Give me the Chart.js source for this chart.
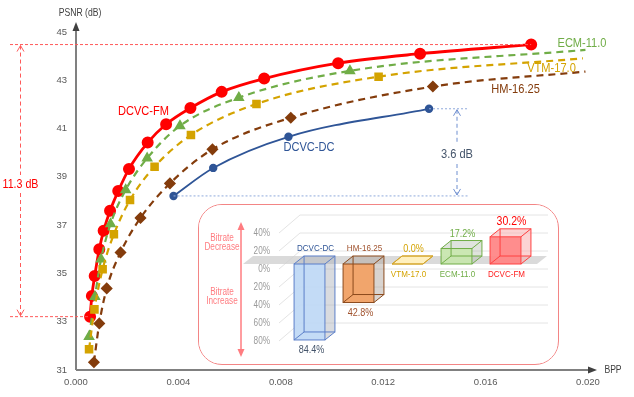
<!DOCTYPE html>
<html><head><meta charset="utf-8">
<script src="https://cdn.jsdelivr.net/npm/chart.js@4"></script>
<style>
html,body{margin:0;padding:0;background:#fff;}
#wrap{position:relative;width:634px;height:397px;overflow:hidden;}
#main{position:absolute;left:0;top:0;}
#inset{position:absolute;left:198px;top:204px;width:361px;height:161px;box-sizing:border-box;border:1.3px solid #f38585;border-radius:24px;background:#fff;overflow:hidden;}
#ic{position:absolute;left:0;top:0;}
</style></head><body>
<div id="wrap"><canvas id="main" width="634" height="397"></canvas>
<div id="inset"><canvas id="ic" width="358" height="158"></canvas></div></div>
<script>
// ---------- data ----------
const xTicks = [0, 0.004, 0.008, 0.012, 0.016, 0.020];
const yTicks = [31, 33, 35, 37, 39, 41, 43, 45];

const fmBpp  = [0.00055,0.00062,0.00073,0.00091,0.00108,0.00133,0.00165,0.00207,0.00280,0.00352,0.00447,0.00569,0.00735,0.01024,0.01344,0.01778];
const fmPsnr = [33.21,34.07,34.89,36.00,36.77,37.60,38.41,39.33,40.42,41.18,41.85,42.52,43.07,43.71,44.10,44.48];

const ecmBpp  = [0.00051,0.00074,0.00098,0.00135,0.00194,0.00278,0.00406,0.00636,0.01070,0.01990];
const ecmPsnr = [32.38,34.04,35.59,37.05,38.46,39.77,41.11,42.28,43.39,44.26];

const vtmBpp  = [0.00051,0.00072,0.00104,0.00148,0.00211,0.00307,0.00449,0.00705,0.01182,0.01980];
const vtmPsnr = [31.86,33.51,35.17,36.62,38.04,39.42,40.73,42.02,43.15,43.91];

const hmBpp  = [0.00070,0.00091,0.00120,0.00174,0.00252,0.00367,0.00533,0.00839,0.01394,0.01990];
const hmPsnr = [31.32,32.93,34.38,35.87,37.30,38.73,40.14,41.45,42.74,43.36];

const dcBpp  = [0.00381,0.00536,0.00830,0.01379];
const dcPsnr = [38.21,39.37,40.66,41.82];

const insetNames  = ['DCVC-DC','HM-16.25','VTM-17.0','ECM-11.0','DCVC-FM'];
const insetValues = [-84.4,-42.8,0.0,17.2,30.2];   // positive = bitrate decrease
const insetTicks  = [40,20,0,-20,-40,-60,-80];

// ---------- helpers ----------
const F = '"Liberation Sans",Arial,sans-serif';
const pts = (xs, ys) => xs.map((x,i)=>({x, y:ys[i]}));
const endless = n => Array.from({length:n},(_,i)=> i===n-1 ? 0 : 4.5);

// narrow text (Calibri-like width)
function txt(ctx, s, x, y, size, color, align){
  ctx.save();
  ctx.font = size+'px '+F; ctx.fillStyle=color;
  ctx.textAlign = align||'center'; ctx.textBaseline='middle';
  ctx.translate(x,y); ctx.scale(0.82,1);
  ctx.fillText(s,0,0);
  ctx.restore();
}
function vArrow(ctx, x, y, dir){ // open chevron, dir=-1 up, 1 down
  ctx.beginPath();
  ctx.moveTo(x-3.5, y - dir*6); ctx.lineTo(x, y); ctx.lineTo(x+3.5, y - dir*6);
  ctx.stroke();
}

const annot = {
  id:'annot',
  afterDraw(c){
    const ctx=c.ctx, xs=c.scales.x, ys=c.scales.y;
    const X=v=>xs.getPixelForValue(v), Y=v=>ys.getPixelForValue(v);
    ctx.save();
    // axes
    const ax=xs.left, ay=ys.bottom;
    ctx.strokeStyle='#808080'; ctx.lineWidth=2; ctx.setLineDash([]);
    ctx.beginPath(); ctx.moveTo(ax,ay); ctx.lineTo(ax,29); ctx.stroke();
    ctx.beginPath(); ctx.moveTo(ax,ay); ctx.lineTo(590,ay); ctx.stroke();
    ctx.fillStyle='#404040';
    ctx.beginPath(); ctx.moveTo(ax,22); ctx.lineTo(ax-3.5,31); ctx.lineTo(ax+3.5,31); ctx.closePath(); ctx.fill();
    ctx.beginPath(); ctx.moveTo(597,ay); ctx.lineTo(588,ay-3.5); ctx.lineTo(588,ay+3.5); ctx.closePath(); ctx.fill();
    txt(ctx,'PSNR (dB)', 80, 13, 10.5, '#404040');
    txt(ctx,'BPP', 613, 370, 10.5, '#404040');

    // 11.3 dB annotation
    const yT=Y(Math.max(...fmPsnr)), yB=Y(Math.min(...fmPsnr));
    ctx.strokeStyle='#ff5a5a'; ctx.lineWidth=1; ctx.setLineDash([3,2]);
    ctx.beginPath(); ctx.moveTo(10,yT); ctx.lineTo(X(fmBpp[fmBpp.length-1]),yT); ctx.stroke();
    ctx.beginPath(); ctx.moveTo(10,yB); ctx.lineTo(X(fmBpp[0]),yB); ctx.stroke();
    ctx.setLineDash([4,3]);
    ctx.beginPath(); ctx.moveTo(20.5,yT+1); ctx.lineTo(20.5,175); ctx.moveTo(20.5,193); ctx.lineTo(20.5,yB-1); ctx.stroke();
    ctx.setLineDash([]);
    vArrow(ctx,20.5,yT+1,-1); vArrow(ctx,20.5,yB-1,1);
    txt(ctx,'11.3 dB', 20.5, 184, 13, '#ff0000');

    // 3.6 dB annotation
    const dT=Y(Math.max(...dcPsnr)), dB=Y(Math.min(...dcPsnr));
    ctx.strokeStyle='#8faadc'; ctx.setLineDash([2,2]);
    ctx.beginPath(); ctx.moveTo(X(dcBpp[dcBpp.length-1]),dT); ctx.lineTo(469,dT); ctx.stroke();
    ctx.beginPath(); ctx.moveTo(X(dcBpp[0]),dB); ctx.lineTo(469,dB); ctx.stroke();
    ctx.strokeStyle='#6f8fd0'; ctx.setLineDash([4,3]);
    ctx.beginPath(); ctx.moveTo(457,dT+1); ctx.lineTo(457,143); ctx.moveTo(457,164); ctx.lineTo(457,dB-1); ctx.stroke();
    ctx.setLineDash([]);
    vArrow(ctx,457,dT+1,-1); vArrow(ctx,457,dB-1,1);
    txt(ctx,'3.6 dB', 457, 154, 13.5, '#44546a');

    // series labels
    txt(ctx,'DCVC-FM', 143.5, 111, 13.5, '#ff0000');
    txt(ctx,'DCVC-DC', 309, 147.5, 13.5, '#2f5597');
    txt(ctx,'ECM-11.0', 582, 43.5, 13.5, '#70ad47');
    txt(ctx,'VTM-17.0', 551.5, 68.5, 13.5, '#d4a300');
    txt(ctx,'HM-16.25', 515.5, 89.5, 13.5, '#843c0c');
    ctx.restore();
  }
};

new Chart(document.getElementById('main'), {
  type:'line',
  data:{datasets:[
    {data:pts(hmBpp,hmPsnr), borderColor:'#843c0c', backgroundColor:'#843c0c', borderWidth:2.2, borderDash:[7,5],
     pointStyle:'rectRot', pointRadius:endless(hmBpp.length), cubicInterpolationMode:'monotone'},
    {data:pts(vtmBpp,vtmPsnr), borderColor:'#d4a300', backgroundColor:'#d4a300', borderWidth:2.2, borderDash:[7,5],
     pointStyle:'rect', pointRadius:endless(vtmBpp.length), cubicInterpolationMode:'monotone'},
    {data:pts(ecmBpp,ecmPsnr), borderColor:'#70ad47', backgroundColor:'#70ad47', borderWidth:2.2, borderDash:[7,5],
     pointStyle:'triangle', pointRadius:endless(ecmBpp.length), cubicInterpolationMode:'monotone'},
    {data:pts(dcBpp,dcPsnr), borderColor:'#2f5597', backgroundColor:'#2f5597', borderWidth:1.8,
     pointStyle:'circle', pointRadius:3.3, cubicInterpolationMode:'monotone'},
    {data:pts(fmBpp,fmPsnr), borderColor:'#ff0000', backgroundColor:'#ff0000', borderWidth:2.8,
     pointStyle:'circle', pointRadius:4.6, cubicInterpolationMode:'monotone'}
  ]},
  options:{
    responsive:false, animation:false, clip:false,
    layout:{padding:{top:32,right:46,left:0,bottom:0}},
    plugins:{legend:{display:false}, tooltip:{enabled:false}},
    elements:{point:{borderWidth:0}},
    scales:{
      x:{type:'linear', min:0, max:0.02,
         grid:{display:false, drawTicks:false}, border:{display:false},
         afterBuildTicks:s=>{s.ticks = xTicks.map(v=>({value:v}));},
         ticks:{padding:7, color:'#595959', font:{family:F,size:9.5}, maxRotation:0, autoSkip:false,
                callback:v=>Number(v).toFixed(3)},
         afterFit:s=>{s.height=27;}},
      y:{type:'linear', min:31, max:45,
         grid:{display:false, drawTicks:false}, border:{display:false},
         afterBuildTicks:s=>{s.ticks = yTicks.map(v=>({value:v}));},
         ticks:{padding:9, color:'#595959', font:{family:F,size:9.5}, autoSkip:false},
         afterFit:s=>{s.width=76;}}
    }
  },
  plugins:[annot]
});

// ---------- inset ----------
const boxStyle = [
  {front:'rgba(189,215,245,0.9)',  back:'rgba(170,175,185,0.45)', edge:'#5b7fc9', name:'#2f5597', val:'#44546a'},
  {front:'rgba(240,160,100,0.95)', back:'rgba(170,160,150,0.45)', edge:'#8b4a1c', name:'#a0522d', val:'#a0522d'},
  {front:'rgba(255,240,190,1)',    back:'rgba(255,240,190,1)',    edge:'#d4a52a', name:'#d4a300', val:'#d4a300'},
  {front:'rgba(200,230,175,0.95)', back:'rgba(175,185,170,0.4)',  edge:'#70ad47', name:'#70ad47', val:'#70ad47'},
  {front:'rgba(255,135,135,0.95)', back:'rgba(250,175,175,0.55)', edge:'#ff4040', name:'#ff2020', val:'#ff0000'}
];
const DX=10, DY=-8;

const insetDeco = {
  id:'insetDeco',
  beforeDraw(c){
    const ctx=c.ctx, ys=c.scales.y;
    ctx.save();
    ctx.fillStyle='#fff'; ctx.fillRect(0,0,c.width,c.height);
    // back wall + side wall gridlines, and axis labels
    ctx.strokeStyle='#e4e4e4'; ctx.lineWidth=1;
    insetTicks.forEach(v=>{
      const py=ys.getPixelForValue(v);
      ctx.beginPath(); ctx.moveTo(80,py+5); ctx.lineTo(101,py-13); ctx.lineTo(349,py-13); ctx.stroke();
      txt(ctx, Math.abs(v)+'%', 71, py+5, 10, '#9a9a9a', 'right');
    });
    // floor band at 0
    const z=ys.getPixelForValue(0);
    ctx.fillStyle='rgba(205,205,205,0.75)';
    ctx.beginPath(); ctx.moveTo(44,z); ctx.lineTo(338,z); ctx.lineTo(348,z-8); ctx.lineTo(54,z-8); ctx.closePath(); ctx.fill();
    // red double arrow
    ctx.strokeStyle='#ff7c80'; ctx.fillStyle='#ff7c80'; ctx.lineWidth=1.5;
    ctx.beginPath(); ctx.moveTo(42,24); ctx.lineTo(42,146); ctx.stroke();
    ctx.beginPath(); ctx.moveTo(42,17); ctx.lineTo(38.5,25); ctx.lineTo(45.5,25); ctx.closePath(); ctx.fill();
    ctx.beginPath(); ctx.moveTo(42,152); ctx.lineTo(38.5,144); ctx.lineTo(45.5,144); ctx.closePath(); ctx.fill();
    txt(ctx,'Bitrate',23,33,10,'#ff7c80'); txt(ctx,'Decrease',23,42.5,10,'#ff7c80');
    txt(ctx,'Bitrate',23,87,10,'#ff7c80'); txt(ctx,'Increase',23,96.5,10,'#ff7c80');
    ctx.restore();
  },
  afterDatasetsDraw(c){
    const ctx=c.ctx, meta=c.getDatasetMeta(0);
    ctx.save();
    meta.data.forEach((bar,i)=>{
      const s=boxStyle[i];
      const w=bar.width, l=bar.x-w/2, r=bar.x+w/2;
      const top=Math.min(bar.y,bar.base), bot=Math.max(bar.y,bar.base), h=bot-top;
      ctx.fillStyle=s.back;
      ctx.beginPath();
      ctx.moveTo(l,top); ctx.lineTo(l+DX,top+DY); ctx.lineTo(r+DX,top+DY); ctx.lineTo(r+DX,bot+DY); ctx.lineTo(r,bot); ctx.lineTo(r,top); ctx.closePath();
      ctx.fill();
      if(h>0){ ctx.fillStyle=s.front; ctx.fillRect(l,top,w,h); }
      ctx.strokeStyle=s.edge; ctx.lineWidth=1;
      ctx.strokeRect(l+DX,top+DY,w,h);
      ctx.strokeRect(l,top,w,h);
      ctx.beginPath();
      [[l,top],[r,top],[r,bot],[l,bot]].forEach(p=>{ctx.moveTo(p[0],p[1]); ctx.lineTo(p[0]+DX,p[1]+DY);});
      ctx.stroke();
      const v=insetValues[i], t=Math.abs(v).toFixed(1)+'%';
      const z=bar.base;
      if(v<0){
        txt(ctx, insetNames[i], bar.x+6, z-16, 9.8, s.name);
        txt(ctx, t, bar.x+2, bot+10, 11, s.val);
      } else {
        txt(ctx, insetNames[i], bar.x+1, z+10, 9.8, s.name);
        txt(ctx, t, bar.x+6, top+DY-7, i===4?12.8:11, s.val);
      }
    });
    ctx.restore();
  }
};

new Chart(document.getElementById('ic'), {
  type:'bar',
  data:{labels:insetNames, datasets:[{data:insetValues, backgroundColor:'rgba(0,0,0,0)', borderWidth:0,
        categoryPercentage:1, barPercentage:0.63}]},
  options:{
    responsive:false, animation:false,
    layout:{padding:{top:5,bottom:9,left:86,right:27}},
    plugins:{legend:{display:false}, tooltip:{enabled:false}},
    scales:{
      x:{display:false},
      y:{display:false, min:-100, max:60}
    }
  },
  plugins:[insetDeco]
});
</script>
</body></html>
